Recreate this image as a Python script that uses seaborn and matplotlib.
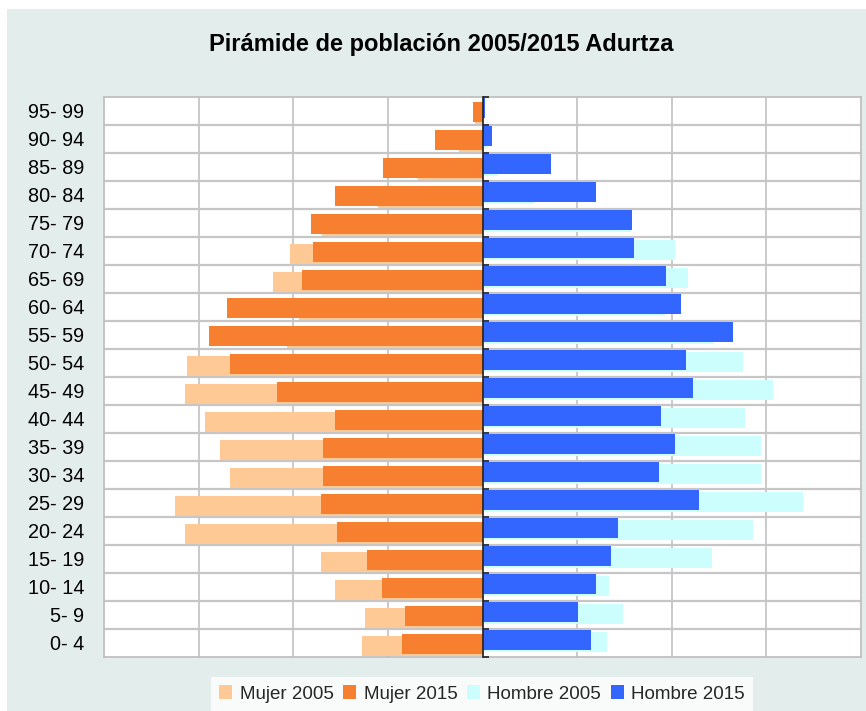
import matplotlib
matplotlib.use("Agg")
import matplotlib.pyplot as plt
from matplotlib.patches import Rectangle, Patch
import seaborn as sns
import pandas as pd
import numpy as np

age_groups = ["95- 99", "90- 94", "85- 89", "80- 84", "75- 79", "70- 74", "65- 69",
              "60- 64", "55- 59", "50- 54", "45- 49", "40- 44", "35- 39", "30- 34",
              "25- 29", "20- 24", "15- 19", "10- 14", "5- 9", "0- 4"]
mujer_2005 = [8, 25, 68, 110, 170, 203, 221, 194, 207, 312, 314, 293, 277, 267, 325, 314, 171, 156, 124, 127]
mujer_2015 = [10, 50, 105, 156, 181, 179, 191, 270, 289, 267, 217, 156, 169, 169, 171, 154, 122, 106, 82, 85]
hombre_2005 = [1, 5, 16, 54, 157, 203, 217, 193, 245, 275, 307, 277, 294, 294, 339, 286, 243, 134, 149, 132]
hombre_2015 = [3, 10, 72, 120, 158, 160, 194, 210, 265, 215, 222, 189, 203, 187, 229, 143, 136, 120, 101, 115]

title = "Pirámide de población 2005/2015 Adurtza"
series = [
    ("Mujer 2005", [-v for v in mujer_2005], "#fec994", 0.107),
    ("Mujer 2015", [-v for v in mujer_2015], "#f67f30", 0.036),
    ("Hombre 2005", hombre_2005, "#ccfefe", -0.036),
    ("Hombre 2015", hombre_2015, "#3366ff", -0.107),
]

sns.set_theme(style="white")
plt.rcParams["font.family"] = ["Liberation Sans", "DejaVu Sans"]

fig = plt.figure(figsize=(8.66, 7.11), dpi=100)
fig.patch.set_facecolor("white")
fig.patches.append(Rectangle((7 / 866, 0), 1, 1 - 9 / 711, transform=fig.transFigure,
                             facecolor="#e3eeec", edgecolor="none", zorder=-10))

ax = fig.add_axes([104 / 866, 1 - 657 / 711, (861 - 104) / 866, (657 - 97) / 711])
ax.set_facecolor("white")

for name, vals, color, off in series:
    n0 = len(ax.patches)
    df = pd.DataFrame({"age": age_groups, "val": vals})
    sns.barplot(data=df, x="val", y="age", order=age_groups, color=color,
                saturation=1, width=0.72, ax=ax, orient="h", zorder=3)
    for p in ax.patches[n0:]:
        p.set_y(p.get_y() + off)
        p.set_edgecolor("none")

ax.set_xlim(-400, 400)
ax.set_ylim(len(age_groups) - 0.5, -0.5)
ax.set_xticks(np.arange(-400, 401, 100))
ax.set_xticklabels([])
ax.tick_params(axis="x", length=0)
ax.grid(False)
for xv in np.arange(-300, 301, 100):
    if xv != 0:
        ax.axvline(xv, color="#c6c6c6", lw=1.3, zorder=1)
for yb in np.arange(0.5, len(age_groups) - 1, 1.0):
    ax.axhline(yb, color="#c6c6c6", lw=1.6, zorder=1)

ax.set_xlabel("")
ax.set_ylabel("")
ax.tick_params(axis="y", length=0, pad=14, labelsize=14.3, labelcolor="black")
for s in ax.spines.values():
    s.set_color("#c0c0c0")
    s.set_linewidth(1.3)

sec = ax.secondary_yaxis(0.5)
sec.set_yticks(np.arange(-0.5, len(age_groups), 1.0))
sec.set_yticklabels([])
sec.tick_params(axis="y", direction="out", length=4, width=1.2, color="#222222")
sec.spines["left"].set_color("#222222")
sec.spines["left"].set_linewidth(1.3)
sec.set_zorder(5)

fig.text(441 / 866, 1 - 44 / 711, title, ha="center", va="center",
         fontsize=17, fontweight="bold", color="black")

handles = [Patch(facecolor=c, edgecolor="none", label=n) for n, _, c, _ in series]
leg = fig.legend(handles=handles, loc="center", ncol=4,
                 bbox_to_anchor=(482 / 866, 1 - 694 / 711), frameon=True,
                 fontsize=13.5, handlelength=0.7, handleheight=0.7,
                 handletextpad=0.4, columnspacing=0.5, borderpad=0.45,
                 fancybox=False)
leg.get_frame().set_facecolor("white")
leg.get_frame().set_edgecolor("none")

fig.savefig("out.png", dpi=100)
